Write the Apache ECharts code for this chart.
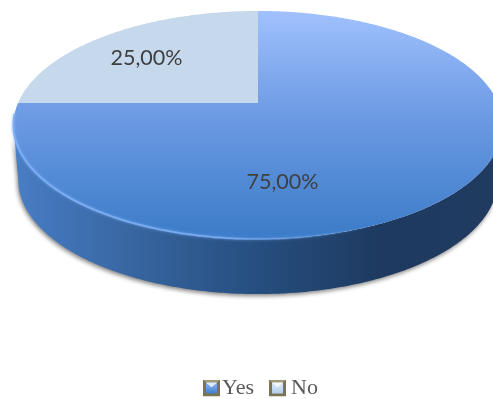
<!DOCTYPE html>
<html>
<head>
<meta charset="utf-8">
<style>html,body{margin:0;padding:0;background:#fff;overflow:hidden}#c{width:493px;height:399px}</style>
<script src="https://cdn.jsdelivr.net/npm/echarts@6/dist/echarts.min.js"></script>
</head>
<body>
<div id="c"></div>
<script>
// Survey answers
const categories = ['Yes', 'No'];
const shares = [75, 25];
const shareLabels = ['75,00%', '25,00%'];

// Perspective disc: hub on screen, half-width at hub level, forward/back scale, foreshortening
const HUB_X = 258, HUB_Y = 103, SPREAD_X = 240, SPREAD_Y = 109.8, TILT = 0.193, DEPTH = 55;
// The lower rim sits farther from the eye, so it is a touch narrower
const BASE_SCALE = 0.98;
const LABEL_SPOTS = [[282.5, 182], [146.5, 58]];
const LEGEND_TEXT_PADDING = [[0, 0, 0, -3], [0, 0, 0, 0]];

const total = shares.reduce((a, b) => a + b, 0);
const G = echarts.graphic;

// Angles where the projected disc is widest: the side wall runs between them
const FRONT_FROM = Math.acos(-TILT), FRONT_TO = 2 * Math.PI - FRONT_FROM;

// Project a pie angle (clockwise from 12 o'clock) onto the tilted disc
function rim(theta, drop, scale) {
  const u = Math.sin(theta), v = Math.cos(theta), k = 1 + TILT * v;
  return [HUB_X + (scale || 1) * SPREAD_X * u / k, HUB_Y - SPREAD_Y * v / k + (drop || 0)];
}
function arc(from, to, drop, scale) {
  const n = Math.max(2, Math.ceil((to - from) / 0.01));
  const out = [];
  for (let i = 0; i <= n; i++) out.push(rim(from + (to - from) * i / n, drop, scale));
  return out;
}

function sliceRange(index) {
  let before = 0;
  for (let i = 0; i < index; i++) before += shares[i];
  return [before / total * 2 * Math.PI, (before + shares[index]) / total * 2 * Math.PI];
}

const topFills = [
  new G.LinearGradient(0, 0, 0, 1, [
    { offset: 0, color: '#a0c1fd' },
    { offset: 0.45, color: '#6d9be4' },
    { offset: 1, color: '#3b7bc8' }
  ]),
  '#c5d8ec'
];
const wallFill = new G.LinearGradient(0, 0, 1, 0, [
  { offset: 0, color: '#4a7fc6' },
  { offset: 0.05, color: '#4479be' },
  { offset: 0.25, color: '#37659f' },
  { offset: 0.5, color: '#264e7f' },
  { offset: 0.75, color: '#1e3a60' },
  { offset: 1, color: '#213b60' }
]);
const bevelStroke = new G.LinearGradient(0, 0, 1, 0, [
  { offset: 0, color: 'rgba(125,175,245,0.95)' },
  { offset: 0.6, color: 'rgba(125,175,245,0.75)' },
  { offset: 1, color: 'rgba(125,175,245,0)' }
]);

function sliceRenderer(index) {
  return function () {
    const [start, end] = sliceRange(index);
    const children = [];
    const wallFrom = Math.max(start, FRONT_FROM), wallTo = Math.min(end, FRONT_TO);
    if (wallTo > wallFrom) {
      children.push({
        type: 'polygon',
        shape: { points: arc(wallFrom, wallTo, 0).concat(arc(wallFrom, wallTo, DEPTH, BASE_SCALE).reverse()) },
        style: { fill: wallFill, shadowBlur: 4, shadowColor: 'rgba(50,50,50,0.6)', shadowOffsetX: -1, shadowOffsetY: 2 }
      });
    }
    children.push({
      type: 'polygon',
      shape: { points: [[HUB_X, HUB_Y]].concat(arc(start, end, 0)) },
      style: { fill: topFills[index] }
    });
    if (wallTo > wallFrom) {
      children.push({
        type: 'polyline',
        shape: { points: arc(wallFrom + 1, wallTo + 0.1, 0) },
        style: { stroke: bevelStroke, lineWidth: 2, fill: null, shadowBlur: 3, shadowColor: 'rgba(125,175,245,0.8)' }
      });
    }
    children.push({
      type: 'text',
      style: {
        x: LABEL_SPOTS[index][0], y: LABEL_SPOTS[index][1],
        text: shareLabels[index],
        fill: '#404040',
        font: '21.5px Lato',
        align: 'center', verticalAlign: 'middle'
      }
    });
    return { type: 'group', children };
  };
}

// Bevelled legend swatches
function swatch(light, dark) {
  const svg = `<svg xmlns="http://www.w3.org/2000/svg" width="17" height="17"><defs><linearGradient id="g" x1="0" y1="0" x2="0" y2="1"><stop offset="0" stop-color="${light}"/><stop offset="1" stop-color="${dark}"/></linearGradient></defs><rect width="17" height="17" fill="#7a7452"/><path d="M0 0H17L14 3H3Z" fill="#a09a78"/><rect x="3" y="3" width="11" height="11" fill="url(#g)"/><path d="M3 3H14L8.5 8Z" fill="#ffffff" opacity=".75"/></svg>`;
  return 'image://data:image/svg+xml;charset=utf-8,' + encodeURIComponent(svg);
}
const swatches = [swatch('#8fb8f2', '#3f7fd0'), swatch('#dbe7f5', '#b5cfea')];

const chart = echarts.init(document.getElementById('c'), null, { renderer: 'canvas' });
chart.setOption({
  animation: false,
  backgroundColor: '#ffffff',
  legend: {
    left: 198,
    top: 372,
    selectedMode: false,
    itemWidth: 17,
    itemHeight: 17,
    itemGap: 15,
    textStyle: { fontFamily: '"Liberation Serif"', fontSize: 22, color: '#595959' },
    data: categories.map((name, i) => ({ name, icon: swatches[i], textStyle: { padding: LEGEND_TEXT_PADDING[i] } }))
  },
  series: categories.map((name, i) => ({
    type: 'custom',
    name,
    coordinateSystem: 'none',
    renderItem: sliceRenderer(i),
    data: [shares[i]],
    silent: true
  }))
});
</script>
</body>
</html>
